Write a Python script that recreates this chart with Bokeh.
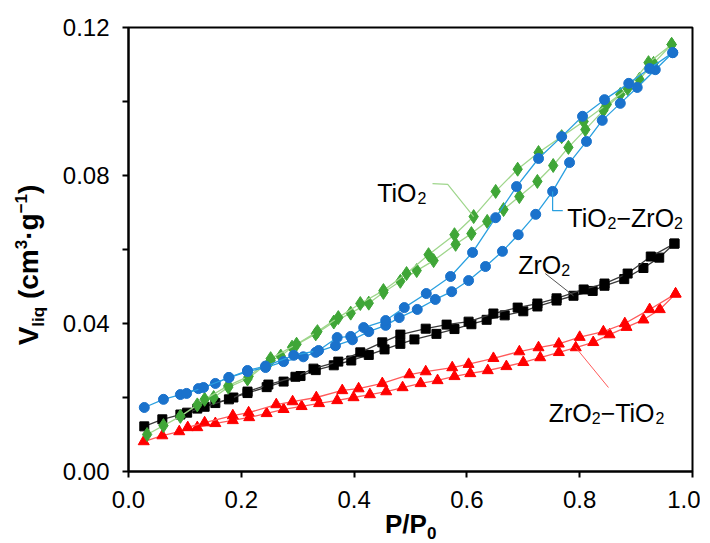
from bokeh.plotting import figure
from bokeh.models import Label, FixedTicker, PrintfTickFormatter, Div
from bokeh.layouts import row, column
from bokeh.embed import file_html
from bokeh.resources import INLINE

# ---------------- data ----------------
# ZrO2-TiO2 (red triangles)
zt_ads_x = [0.027, 0.06, 0.09, 0.122, 0.154, 0.185, 0.214, 0.245, 0.275, 0.307, 0.338, 0.37,
            0.399, 0.428, 0.457, 0.486, 0.518, 0.548, 0.578, 0.606, 0.637, 0.67, 0.70, 0.73,
            0.763, 0.793, 0.824, 0.853, 0.883, 0.913, 0.942, 0.97]
zt_ads_y = [0.0081, 0.0097, 0.0108, 0.0119, 0.0130, 0.0138, 0.0146, 0.0157, 0.0168, 0.0176,
            0.0184, 0.0192, 0.0200, 0.0208, 0.0216, 0.0227, 0.0238, 0.0246, 0.0257, 0.0265,
            0.0273, 0.0284, 0.0295, 0.0308, 0.0322, 0.0335, 0.0349, 0.0370, 0.0390, 0.0410,
            0.0438, 0.0480]
zt_des_x = [0.105, 0.135, 0.185, 0.213, 0.262, 0.291, 0.333, 0.379, 0.408, 0.45, 0.498, 0.527,
            0.574, 0.603, 0.647, 0.693, 0.727, 0.763, 0.80, 0.842, 0.88, 0.924, 0.97]
zt_des_y = [0.0119, 0.0132, 0.0151, 0.0159, 0.0181, 0.0189, 0.0200, 0.0219, 0.0224, 0.0238,
            0.0262, 0.0270, 0.0281, 0.0290, 0.0306, 0.0324, 0.0335, 0.0345, 0.0363, 0.0378,
            0.0400, 0.0438, 0.0480]

# ZrO2 (black squares)
zr_ads_x = [0.028, 0.06, 0.092, 0.122, 0.154, 0.186, 0.211, 0.245, 0.275, 0.305, 0.332, 0.364,
            0.395, 0.426, 0.454, 0.482, 0.507, 0.546, 0.578, 0.608, 0.635, 0.667, 0.70, 0.725,
            0.759, 0.789, 0.823, 0.844, 0.879, 0.913, 0.941, 0.968]
zr_ads_y = [0.0122, 0.0141, 0.0154, 0.0170, 0.0185, 0.0200, 0.0212, 0.0228, 0.0243, 0.0258,
            0.0274, 0.0287, 0.0300, 0.0315, 0.0330, 0.0345, 0.0357, 0.0372, 0.0385, 0.0398,
            0.0410, 0.0422, 0.0433, 0.0446, 0.0462, 0.0475, 0.0488, 0.0502, 0.0520, 0.0550,
            0.0578, 0.0616]
zr_des_x = [0.104, 0.135, 0.178, 0.211, 0.248, 0.296, 0.328, 0.372, 0.411, 0.45, 0.482, 0.527,
            0.564, 0.603, 0.647, 0.69, 0.725, 0.759, 0.807, 0.844, 0.885, 0.926, 0.968]
zr_des_y = [0.0159, 0.0175, 0.0195, 0.0216, 0.0235, 0.0256, 0.0278, 0.0297, 0.0322, 0.0349,
            0.0370, 0.0386, 0.0397, 0.0405, 0.0427, 0.0443, 0.0454, 0.0468, 0.0492, 0.0508,
            0.0535, 0.0581, 0.0616]

# TiO2-ZrO2 (blue circles)
tz_ads_x = [0.028, 0.062, 0.092, 0.124, 0.154, 0.178, 0.211, 0.243, 0.275, 0.31, 0.332, 0.367,
            0.397, 0.426, 0.456, 0.48, 0.512, 0.544, 0.573, 0.603, 0.633, 0.663, 0.691, 0.722,
            0.752, 0.782, 0.812, 0.84, 0.872, 0.902, 0.934, 0.965]
tz_ads_y = [0.0173, 0.0195, 0.0208, 0.0224, 0.0238, 0.0254, 0.0270, 0.0281, 0.0297, 0.0310,
            0.0322, 0.0340, 0.0356, 0.0378, 0.0395, 0.0416, 0.0438, 0.0465, 0.0486, 0.0516,
            0.0554, 0.0595, 0.0640, 0.0695, 0.0757, 0.0835, 0.0892, 0.0949, 0.0995, 0.1038,
            0.1086, 0.1132]
tz_des_x = [0.103, 0.133, 0.178, 0.211, 0.243, 0.293, 0.337, 0.37, 0.394, 0.417, 0.456, 0.489,
            0.528, 0.571, 0.61, 0.651, 0.688, 0.727, 0.768, 0.805, 0.844, 0.887, 0.924, 0.965]
tz_des_y = [0.0211, 0.0227, 0.0254, 0.0273, 0.0285, 0.0314, 0.0327, 0.0362, 0.0365, 0.0389,
            0.0408, 0.0443, 0.0481, 0.0527, 0.0592, 0.0686, 0.0770, 0.0846, 0.0905, 0.0960,
            0.1005, 0.1049, 0.1089, 0.1132]

# TiO2 (green diamonds)
ti_ads_x = [0.033, 0.062, 0.092, 0.122, 0.151, 0.177, 0.211, 0.252, 0.27, 0.29, 0.332, 0.364,
            0.394, 0.426, 0.452, 0.482, 0.511, 0.541, 0.58, 0.608, 0.636, 0.665, 0.693, 0.725,
            0.753, 0.78, 0.81, 0.842, 0.872, 0.906, 0.931, 0.963]
ti_ads_y = [0.0100, 0.0124, 0.0149, 0.0180, 0.0200, 0.0228, 0.0250, 0.0300, 0.0312, 0.0336,
            0.0372, 0.0404, 0.0428, 0.0455, 0.0484, 0.0514, 0.0543, 0.0570, 0.0614, 0.0643,
            0.0676, 0.0708, 0.0743, 0.0784, 0.0827, 0.0876, 0.0924, 0.0976, 0.1019, 0.1060,
            0.1103, 0.1154]
ti_des_x = [0.135, 0.177, 0.213, 0.252, 0.298, 0.335, 0.372, 0.411, 0.452, 0.493, 0.532, 0.578,
            0.612, 0.651, 0.69, 0.727, 0.768, 0.807, 0.848, 0.885, 0.922, 0.963]
ti_des_y = [0.0195, 0.0232, 0.0257, 0.0305, 0.0344, 0.0378, 0.0416, 0.0454, 0.0489, 0.0535,
            0.0586, 0.0640, 0.0689, 0.0757, 0.0817, 0.0862, 0.0905, 0.0946, 0.0992, 0.1035,
            0.1105, 0.1154]

x_ticks = [0.0, 0.2, 0.4, 0.6, 0.8, 1.0]
y_ticks = [0.0, 0.04, 0.08, 0.12]
y_minor = [0.02, 0.06, 0.10]

# ---------------- figure ----------------
FONT = "Liberation Sans"
YDIV_W = 50
FIG_H = 513
p = figure(width=650, height=FIG_H, x_range=(0, 1.0), y_range=(0, 0.12),
           output_backend="svg", toolbar_location=None,
           min_border_left=78, min_border_right=8, min_border_top=27, min_border_bottom=42)
p.background_fill_color = "white"
p.border_fill_color = "white"
p.xgrid.visible = False
p.ygrid.visible = False
p.outline_line_color = "black"
p.outline_line_width = 2

for ax in (p.xaxis[0], p.yaxis[0]):
    ax.axis_line_width = 2
    ax.axis_line_color = "black"
    ax.major_tick_line_width = 2
    ax.minor_tick_line_width = 2
    ax.major_tick_in = 0
    ax.major_tick_out = 6
    ax.minor_tick_in = 0
    ax.major_label_text_font = FONT
    ax.major_label_text_font_size = "24px"
    ax.major_label_text_color = "black"

p.xaxis[0].ticker = FixedTicker(ticks=x_ticks)
p.xaxis[0].formatter = PrintfTickFormatter(format="%.1f")
p.xaxis[0].minor_tick_out = 0
p.xaxis[0].major_label_standoff = 13
p.yaxis[0].ticker = FixedTicker(ticks=y_ticks, minor_ticks=y_minor)
p.yaxis[0].formatter = PrintfTickFormatter(format="%.2f")
p.yaxis[0].minor_tick_out = 6
p.yaxis[0].major_label_standoff = 13

# ---------------- series ----------------
series = [
    (zt_ads_x, zt_ads_y, zt_des_x, zt_des_y, "triangle", 11, "#ff0000", "#ff5a5a"),
    (zr_ads_x, zr_ads_y, zr_des_x, zr_des_y, "square", 9, "#000000", "#3a3a3a"),
    (ti_ads_x, ti_ads_y, ti_des_x, ti_des_y, "diamond", 14, "#3fa637", "#9fd68c"),
    (tz_ads_x, tz_ads_y, tz_des_x, tz_des_y, "circle", 10, "#1a72cc", "#2aa0e0"),
]
for ax_, ay_, dx_, dy_, mk, sz, mc, lc in series:
    for xs, ys in ((ax_, ay_), (dx_, dy_)):
        p.line(xs, ys, line_color=lc, line_width=1.3)
        p.scatter(xs, ys, marker=mk, size=sz, fill_color=mc, line_color=mc)

# ---------------- in-plot labels with leader lines ----------------
W_REG = {"T": .611, "i": .222, "O": .778, "Z": .611, "r": .333, "−": .584, "2": .556}


def rich(x, y, pieces):
    adv = 0.0
    for txt, size, shift in pieces:
        p.add_layout(Label(x=x, y=y, text=txt, x_offset=adv, y_offset=shift,
                           text_font=FONT, text_font_size=f"{size}px", text_color="black",
                           text_align="left", text_baseline="alphabetic"))
        adv += sum(W_REG.get(ch, 0.56) for ch in txt) * size


S, s, d = 25, 16, -5
rich(0.441, 0.0754, [("TiO", S, 0), ("2", s, d)])
rich(0.778, 0.0684, [("TiO", S, 0), ("2", s, d), ("−ZrO", S, 0), ("2", s, d)])
rich(0.691, 0.0557, [("ZrO", S, 0), ("2", s, d)])
rich(0.745, 0.0159, [("ZrO", S, 0), ("2", s, d), ("−TiO", S, 0), ("2", s, d)])

p.line([0.539, 0.566, 0.612], [0.0778, 0.0776, 0.0689], line_color="#9fd68c", line_width=1.2)
p.line([0.752, 0.752, 0.770], [0.0757, 0.0705, 0.0705], line_color="#2aa0e0", line_width=1.2)
p.line([0.739, 0.789], [0.0535, 0.0475], line_color="#555555", line_width=1.0)
p.line([0.851, 0.793], [0.0227, 0.0335], line_color="#ff5a5a", line_width=1.0)

# ---------------- axis titles (HTML, with real sub/superscripts) ----------------
sub = "font-size:17px;vertical-align:-6px;line-height:0;"
sup = "font-size:17px;vertical-align:11px;line-height:0;"
ytitle = Div(width=YDIV_W, height=FIG_H, margin=0, text=(
    f'<div style="width:{YDIV_W}px;height:{FIG_H}px;display:flex;align-items:center;'
    'justify-content:center;">'
    f'<span style="display:inline-block;white-space:nowrap;font-family:\'{FONT}\';'
    'font-weight:bold;font-size:28px;line-height:28px;color:black;'
    'transform:translate(4px,8px) rotate(-90deg);">'
    f'V<span style="{sub}">liq</span> (cm<span style="{sup}">3</span>·g'
    f'<span style="{sup}">−1</span>)</span></div>'))
xtitle = Div(width=YDIV_W + 650, height=27, margin=0, text=(
    f'<div style="padding-left:385px;white-space:nowrap;font-family:\'{FONT}\';'
    'font-weight:bold;font-size:26px;line-height:22px;color:black;">'
    f'P/P<span style="{sub}">0</span></div>'))

layout = column(row(ytitle, p, spacing=0), xtitle, spacing=0)

open("out.html", "w").write(file_html(layout, INLINE))
